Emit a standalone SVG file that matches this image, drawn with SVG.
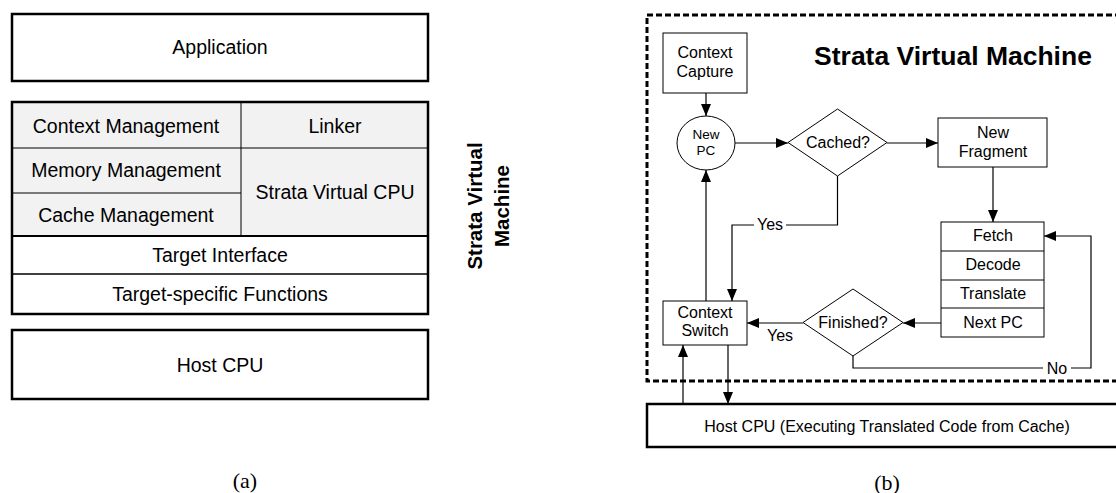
<svg xmlns="http://www.w3.org/2000/svg" width="1116" height="493" viewBox="0 0 1116 493">
<style>
.t{font-family:"Liberation Sans",Arial,sans-serif;fill:#000;text-anchor:middle}
.L{font-size:19.5px}
.R{font-size:16px}
.thick{fill:#fff;stroke:#000;stroke-width:2.5}
.thin{fill:#fff;stroke:#000;stroke-width:1}
.ln{fill:none;stroke:#000;stroke-width:1}
.con{fill:none;stroke:#000;stroke-width:1.2;marker-end:url(#ah)}
.cap{font-family:"Liberation Serif","Times New Roman",serif;font-size:22px;text-anchor:middle}
</style>
<defs>
<marker id="ah" markerUnits="userSpaceOnUse" markerWidth="14" markerHeight="12" refX="12" refY="5" orient="auto">
<path d="M0,0 L12,5 L0,10 z" fill="#000"/>
</marker>
</defs>
<rect width="1116" height="493" fill="#fff"/>

<!-- (a) layered diagram -->
<g id="a-application">
<rect class="thick" x="12" y="14" width="416" height="67"/>
<text class="t L" x="220" y="54">Application</text>
</g>
<g id="a-vm-stack">
<rect x="12" y="102" width="416" height="134" fill="#f2f2f2"/>
<line class="ln" x1="12" y1="148" x2="428" y2="148"/>
<line class="ln" x1="241" y1="102" x2="241" y2="236"/>
<line class="ln" x1="12" y1="193" x2="241" y2="193"/>
<line x1="12" y1="236" x2="428" y2="236" stroke="#000" stroke-width="2"/>
<line x1="12" y1="274" x2="428" y2="274" stroke="#000" stroke-width="1.5"/>
<rect x="12" y="102" width="416" height="212" fill="none" stroke="#000" stroke-width="2.5"/>
<text class="t L" x="126" y="133">Context Management</text>
<text class="t L" x="335" y="133">Linker</text>
<text class="t L" x="126" y="177">Memory Management</text>
<text class="t L" x="126" y="222">Cache Management</text>
<text class="t L" x="335" y="199">Strata Virtual CPU</text>
<text class="t L" x="220" y="262">Target Interface</text>
<text class="t L" x="220" y="301">Target-specific Functions</text>
</g>
<g id="a-vm-label">
<text class="t" font-size="20.5" font-weight="bold" transform="translate(482,206) rotate(-90)">Strata Virtual</text>
<text class="t" font-size="20.5" font-weight="bold" transform="translate(509,206) rotate(-90)">Machine</text>
</g>
<g id="a-host-cpu">
<rect class="thick" x="12" y="330" width="416" height="69"/>
<text class="t L" x="220" y="372">Host CPU</text>
</g>
<text class="cap" x="245" y="488">(a)</text>

<!-- (b) flow diagram -->
<g id="b-vm-frame">
<rect x="647" y="15" width="480" height="366" fill="none" stroke="#000" stroke-width="3" stroke-dasharray="6,3"/>
<text class="t" x="953" y="65" font-size="26.5" font-weight="bold">Strata Virtual Machine</text>
</g>
<g id="b-context-capture">
<rect class="thin" x="663" y="33" width="84" height="60"/>
<text class="t R" x="705" y="58">Context</text>
<text class="t R" x="705" y="77">Capture</text>
</g>
<g id="b-new-pc">
<ellipse class="thin" cx="706" cy="143" rx="29" ry="27"/>
<text class="t" font-size="13.5" x="706" y="139">New</text>
<text class="t" font-size="13.5" x="706" y="155">PC</text>
</g>
<g id="b-cached">
<polygon class="thin" points="788,142.5 837.5,109 887,142.5 837.5,176"/>
<text class="t R" x="838" y="148">Cached?</text>
</g>
<g id="b-new-fragment">
<rect class="thin" x="938" y="118" width="109" height="49"/>
<text class="t R" x="993" y="138">New</text>
<text class="t R" x="993" y="157">Fragment</text>
</g>
<g id="b-fragment-steps">
<rect class="thin" x="941" y="222" width="103" height="115"/>
<line class="ln" x1="941" y1="251" x2="1044" y2="251"/>
<line class="ln" x1="941" y1="280" x2="1044" y2="280"/>
<line class="ln" x1="941" y1="308" x2="1044" y2="308"/>
<text class="t R" x="993" y="241">Fetch</text>
<text class="t R" x="993" y="270">Decode</text>
<text class="t R" x="993" y="299">Translate</text>
<text class="t R" x="993" y="328">Next PC</text>
</g>
<g id="b-finished">
<polygon class="thin" points="803,322.5 853,289 903,322.5 853,356"/>
<text class="t R" x="853" y="328">Finished?</text>
</g>
<g id="b-context-switch">
<rect class="thin" x="663" y="301" width="84" height="44"/>
<text class="t R" x="705" y="318">Context</text>
<text class="t R" x="705" y="336">Switch</text>
</g>
<g id="b-host-cpu">
<rect x="647" y="404" width="480" height="43" fill="#fff" stroke="#000" stroke-width="2.5"/>
<text class="t R" x="887" y="432">Host CPU (Executing Translated Code from Cache)</text>
</g>

<g id="connectors">
<line class="con" x1="706" y1="93" x2="706" y2="116"/>
<line class="con" x1="735" y1="143" x2="788" y2="143"/>
<line class="con" x1="887" y1="143" x2="938" y2="143"/>
<line class="con" x1="993" y1="167" x2="993" y2="222"/>
<path class="con" d="M837.5,176 V225 H732 V301"/>
<line class="con" x1="706" y1="301" x2="706" y2="170"/>
<line class="con" x1="941" y1="323" x2="903" y2="323"/>
<line class="con" x1="803" y1="323" x2="747" y2="323"/>
<path class="con" d="M853,356 V368 H1091 V236 H1044"/>
<line class="con" x1="683" y1="404" x2="683" y2="345"/>
<line class="con" x1="728" y1="345" x2="728" y2="404"/>
<rect x="754" y="217" width="32" height="16" fill="#fff"/>
<text class="t R" x="770" y="230">Yes</text>
<text class="t R" x="780" y="341">Yes</text>
<rect x="1043" y="360" width="28" height="16" fill="#fff"/>
<text class="t R" x="1057" y="374">No</text>
</g>
<text class="cap" x="887" y="490">(b)</text>
</svg>
